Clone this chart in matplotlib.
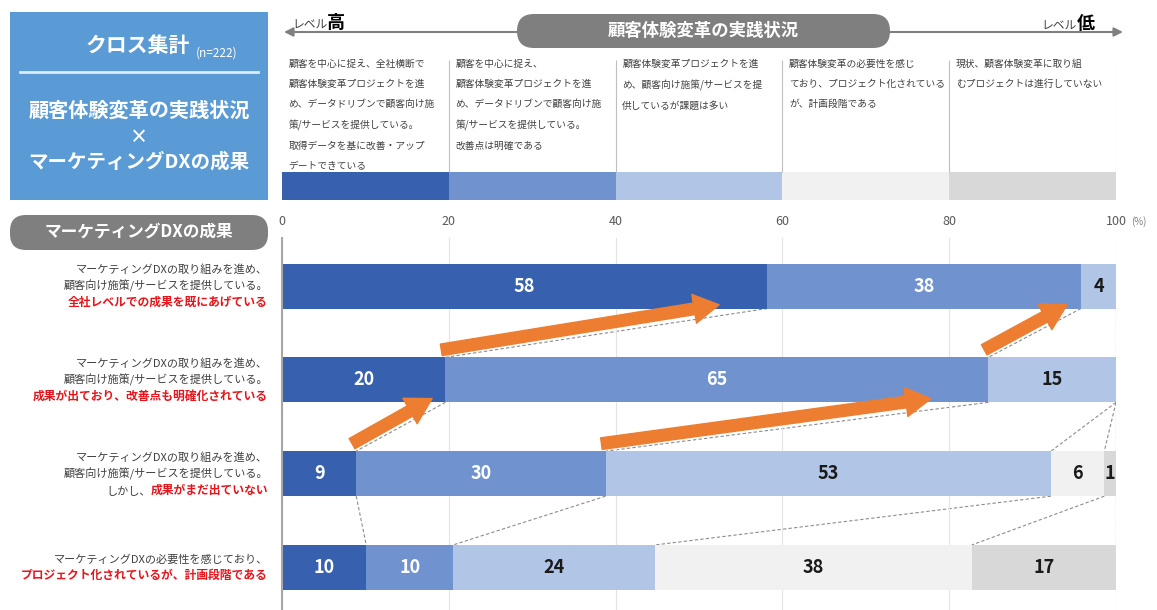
import matplotlib
matplotlib.use("Agg")
import numpy as np
import matplotlib.pyplot as plt
from matplotlib.patches import FancyBboxPatch, Rectangle, FancyArrowPatch

plt.rcParams['font.family'] = ['Noto Sans CJK JP', 'DejaVu Sans']

# data (%)
levels = ["顧客を中心に捉え、全社横断で\n顧客体験変革プロジェクトを進\nめ、データドリブンで顧客向け施\n策/サービスを提供している。\n取得データを基に改善・アップ\nデートできている",
          "顧客を中心に捉え、\n顧客体験変革プロジェクトを進\nめ、データドリブンで顧客向け施\n策/サービスを提供している。\n改善点は明確である",
          "顧客体験変革プロジェクトを進\nめ、顧客向け施策/サービスを提\n供しているが課題は多い",
          "顧客体験変革の必要性を感じ\nており、プロジェクト化されている\nが、計画段階である",
          "現状、顧客体験変革に取り組\nむプロジェクトは進行していない"]
level_colors = ["#3761AE", "#7093D0", "#B1C5E7", "#F1F1F1", "#D8D8D8"]

row_black = [["マーケティングDXの取り組みを進め、", "顧客向け施策/サービスを提供している。"],
             ["マーケティングDXの取り組みを進め、", "顧客向け施策/サービスを提供している。"],
             ["マーケティングDXの取り組みを進め、", "顧客向け施策/サービスを提供している。"],
             ["マーケティングDXの必要性を感じており、"]]
row_red = ["全社レベルでの成果を既にあげている",
           "成果が出ており、改善点も明確化されている",
           "成果がまだ出ていない",
           "プロジェクト化されているが、計画段階である"]
row_prefix = ["", "", "しかし、", ""]

vals = np.array([[58.2, 37.6, 4.2, 0.0, 0.0],
                 [19.6, 65.1, 15.3, 0.0, 0.0],
                 [8.9, 29.9, 53.4, 6.4, 1.4],
                 [10.1, 10.4, 24.2, 38.0, 17.3]])
ticks = [0, 20, 40, 60, 80, 100]

W, H = 1157, 610
fig = plt.figure(figsize=(W / 100, H / 100), dpi=100)

# overlay in pixel coords for the decorations
ov = fig.add_axes([0, 0, 1, 1])
ov.set_xlim(0, W)
ov.set_ylim(H, 0)
ov.axis('off')

ov.add_patch(Rectangle((10, 12), 258, 188, fc="#5B9BD5", ec="none"))
ov.plot([20, 258], [72, 72], color="#DDEBF7", lw=2)
ov.text(190, 46, "クロス集計", color="white", fontsize=15, fontweight="bold", ha="right", va="center")
ov.text(196, 53, "(n=222)", color="white", fontsize=8.5, ha="left", va="center")
ov.text(139, 110, "顧客体験変革の実践状況", color="white", fontsize=14.5, fontweight="bold", ha="center", va="center")
ov.text(139, 137, "×", color="white", fontsize=13, fontweight="bold", ha="center", va="center")
ov.text(139, 162, "マーケティングDXの成果", color="white", fontsize=14, fontweight="bold", ha="center", va="center")

ov.add_patch(FancyBboxPatch((10, 215), 258, 35, boxstyle="round,pad=0,rounding_size=16",
                            fc="#7F7F7F", ec="none"))
ov.text(139, 232, "マーケティングDXの成果", color="white", fontsize=12, fontweight="bold", ha="center", va="center")

# level arrow
ov.annotate("", xy=(284, 32), xytext=(1123, 32),
            arrowprops=dict(arrowstyle="<|-|>", color="#808080", lw=1.5, mutation_scale=13, shrinkA=0, shrinkB=0))
ov.add_patch(FancyBboxPatch((517, 14), 373, 34, boxstyle="round,pad=0,rounding_size=17",
                            fc="#7F7F7F", ec="none", zorder=3))
ov.text(703, 31, "顧客体験変革の実践状況", color="white", fontsize=12.5, fontweight="bold",
        ha="center", va="center", zorder=4)
t = ov.text(292, 29, "レベル", fontsize=8.5, color="#404040", ha="left", va="baseline")
ov.annotate("高", xy=(1, 0), xycoords=t, fontsize=13, fontweight="bold", ha="left", va="bottom")
t = ov.text(1095, 29, "低", fontsize=13, fontweight="bold", ha="right", va="baseline")
ov.annotate("レベル", xy=(0, 0), xycoords=t, fontsize=8.5, color="#404040", ha="right", va="bottom")

# header with level descriptions
top = fig.add_axes([282 / W, 1 - 200 / H, 834 / W, 145 / H])
top.set_xlim(0, 100)
top.set_ylim(0, 145)
top.axis('off')
top.bar(ticks[:-1], 28, width=20, align="edge", color=level_colors)
top.vlines(ticks[1:], 28, 140, color="#BFBFBF", lw=0.8)
for x0, txt in zip(ticks[:-1], levels):
    top.text(x0 + 0.8, 141, txt, fontsize=7, color="#404040", ha="left", va="top", linespacing=2.25)

# main stacked bars
ax = fig.add_axes([282 / W, 0, 834 / W, (H - 238) / H])
ax.patch.set_alpha(0)
sp = 93.8
ax.set_ylim(3 + (H - 567.5) / sp, -(286 - 238) / sp)
ax.set_xlim(0, 100)
bh = 45 / sp
rows = np.arange(len(vals))
left = np.zeros(len(vals))
for k in range(vals.shape[1]):
    ax.barh(rows, vals[:, k], left=left, height=bh, color=level_colors[k], zorder=2)
    for r in rows:
        v = vals[r, k]
        if v > 0:
            ax.text(left[r] + v / 2, r, f"{v:.0f}", ha="center", va="center", fontsize=13,
                    fontweight="bold", color="white" if k < 2 else "#1A1A1A", zorder=5)
    left += vals[:, k]

cum = np.cumsum(vals, axis=1)
for r in range(len(vals) - 1):
    seen = set()
    for k in range(vals.shape[1]):
        pair = (round(cum[r, k], 1), round(cum[r + 1, k], 1))
        if pair in seen:
            continue
        seen.add(pair)
        ax.plot(pair, [r + bh / 2, r + 1 - bh / 2], color="#8C8C8C", lw=0.8, ls=(0, (3, 2)), zorder=1)

# orange arrows between matching boundaries
for r in (2, 1):
    for k in (0, 1):
        x0, x1 = cum[r, k], cum[r - 1, k]
        arr = FancyArrowPatch((x0 - 0.5, r - 0.32), (x0 + 0.85 * (x1 - x0), r - 1 + 0.2),
                              arrowstyle="simple,head_width=1.5,head_length=1.3,tail_width=0.6",
                              mutation_scale=14, color="#ED7D31", shrinkA=0, shrinkB=0, zorder=6)
        ax.add_patch(arr)

ax.set_yticks([])
ax.xaxis.tick_top()
ax.set_xticks(ticks)
ax.set_xticklabels([str(v) for v in ticks])
ax.tick_params(axis="x", length=0, pad=7, labelsize=9, labelcolor="#595959")
ax.grid(axis="x", color="#E4E4E4", lw=0.8, zorder=0)
for s in ("top", "right", "bottom"):
    ax.spines[s].set_visible(False)
ax.spines["left"].set_color("#A6A6A6")
ax.spines["left"].set_linewidth(1.5)
ax.annotate("(%)", xy=(1, 1), xycoords="axes fraction", xytext=(15, 11), textcoords="offset pixels",
            fontsize=7, color="#7F7F7F", ha="left", va="bottom")

# row labels
for r in rows:
    n = len(row_black[r]) + 1
    offs = [(n - 1) / 2 * 16.5 - i * 16.5 for i in range(n)]
    for i, line in enumerate(row_black[r]):
        ax.annotate(line, xy=(0, r), xycoords=("axes fraction", "data"), xytext=(-14, offs[i]),
                    textcoords="offset pixels", ha="right", va="center", fontsize=8, color="#404040")
    red = ax.annotate(row_red[r], xy=(0, r), xycoords=("axes fraction", "data"), xytext=(-14, offs[-1]),
                      textcoords="offset pixels", ha="right", va="center", fontsize=8.5,
                      fontweight="bold", color="#E8141B")
    if row_prefix[r]:
        ax.annotate(row_prefix[r], xy=(0, 0), xycoords=red, ha="right", va="bottom",
                    fontsize=8, color="#404040")

fig.savefig("out.png", dpi=100)
